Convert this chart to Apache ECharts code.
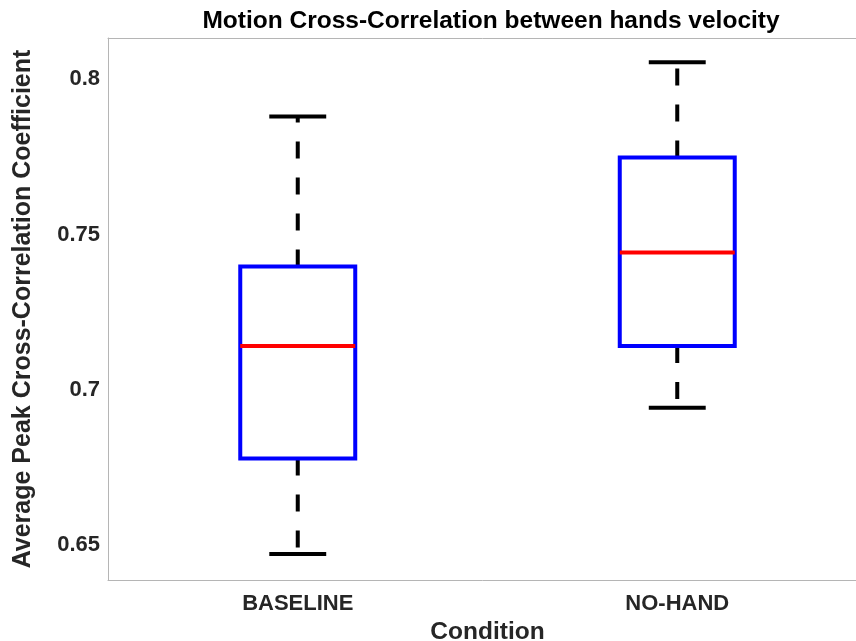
<!DOCTYPE html>
<html>
<head>
<meta charset="utf-8">
<title>Motion Cross-Correlation</title>
<script src="https://cdn.jsdelivr.net/npm/echarts@6/dist/echarts.min.js"></script>
<style>
    html, body { margin: 0; padding: 0; background: #fff; }
    #chartDiv { width: 856px; height: 641px; }
</style>
</head>
<body>
<div id="chartDiv"></div>
<script>
// conditions on the x axis
var conditions = ['BASELINE', 'NO-HAND'];
// box statistics per condition
var whiskerLow = [0.6471, 0.6942];
var quartile1 = [0.6778, 0.7141];
var medians = [0.7141, 0.7442];
var quartile3 = [0.7397, 0.7748];
var whiskerHigh = [0.7880, 0.8055];
// y axis range and ticks
var yMin = 0.6387;
var yMax = 0.8133;
var yTicks = [0.65, 0.7, 0.75, 0.8];

var textColor = '#262626';
var axisColor = '#b5b5b5';
var fontName = '"Liberation Sans", Arial, Helvetica, sans-serif';

function buildBoxData() {
    return conditions.map(function (c, i) {
        return [i, whiskerLow[i], quartile1[i], medians[i], quartile3[i], whiskerHigh[i]];
    });
}

function renderBox(params, api) {
    var idx = api.value(0);
    var band = api.size([1, 0])[0];
    var halfBox = band * 0.1515;
    var halfCap = band * 0.075;
    var pLow = api.coord([idx, api.value(1)]);
    var pQ1 = api.coord([idx, api.value(2)]);
    var pMed = api.coord([idx, api.value(3)]);
    var pQ3 = api.coord([idx, api.value(4)]);
    var pHigh = api.coord([idx, api.value(5)]);
    var x = pMed[0];
    var dashStyle = { stroke: '#000', lineWidth: 4, lineDash: [17, 19], lineCap: 'butt' };
    var solid = { stroke: '#000', lineWidth: 4, lineCap: 'butt' };
    return {
        type: 'group',
        children: [
            { type: 'line', shape: { x1: x, y1: pQ3[1], x2: x, y2: pHigh[1] }, style: dashStyle },
            { type: 'line', shape: { x1: x, y1: pQ1[1], x2: x, y2: pLow[1] }, style: dashStyle },
            { type: 'line', shape: { x1: x - halfCap, y1: pHigh[1], x2: x + halfCap, y2: pHigh[1] }, style: solid },
            { type: 'line', shape: { x1: x - halfCap, y1: pLow[1], x2: x + halfCap, y2: pLow[1] }, style: solid },
            {
                type: 'rect',
                shape: { x: x - halfBox, y: pQ3[1], width: halfBox * 2, height: pQ1[1] - pQ3[1] },
                style: { fill: 'none', stroke: '#0000ff', lineWidth: 4 }
            },
            {
                type: 'line',
                shape: { x1: x - halfBox, y1: pMed[1], x2: x + halfBox, y2: pMed[1] },
                style: { stroke: '#ff0000', lineWidth: 4 }
            }
        ]
    };
}

function drawChart() {
    var myChart = echarts.init(document.getElementById('chartDiv'));
    myChart.setOption({
        animation: false,
        backgroundColor: '#fff',
        graphic: [{
            type: 'text',
            x: 491,
            y: 21,
            style: {
                text: 'Motion Cross-Correlation between hands velocity',
                font: 'bold 24.5px ' + fontName,
                fill: '#000',
                align: 'center',
                verticalAlign: 'middle'
            }
        }],
        grid: {
            left: 108,
            top: 38,
            width: 759,
            height: 542,
            outerBoundsMode: 'none',
            containLabel: false
        },
        xAxis: [{
            type: 'category',
            data: conditions,
            name: 'Condition',
            nameLocation: 'middle',
            nameGap: 35,
            nameTextStyle: { fontFamily: fontName, fontWeight: 'bold', fontSize: 24.5, color: textColor },
            axisLine: { lineStyle: { color: axisColor, width: 1 } },
            axisTick: { inside: true, length: 7, alignWithLabel: true, lineStyle: { color: '#777' } },
            axisLabel: { margin: 13, fontFamily: fontName, fontWeight: 'bold', fontSize: 22, color: textColor },
            splitLine: { show: false }
        }, {
            type: 'category',
            data: conditions,
            position: 'top',
            axisLine: { lineStyle: { color: axisColor, width: 1 } },
            axisTick: { inside: true, length: 7, alignWithLabel: true, lineStyle: { color: '#777' } },
            axisLabel: { show: false },
            splitLine: { show: false }
        }],
        yAxis: {
            type: 'value',
            min: yMin,
            max: yMax,
            splitNumber: 4,
            name: 'Average Peak Cross-Correlation Coefficient',
            nameLocation: 'middle',
            nameGap: 72,
            nameTextStyle: { fontFamily: fontName, fontWeight: 'bold', fontSize: 25, color: textColor },
            axisLine: { show: true, lineStyle: { color: axisColor, width: 1 } },
            axisTick: { inside: true, length: 6, lineStyle: { color: '#777' } },
            axisLabel: {
                margin: 8,
                showMinLabel: false,
                showMaxLabel: false,
                fontFamily: fontName,
                fontWeight: 'bold',
                fontSize: 22,
                color: textColor,
                formatter: function (v) {
                    for (var i = 0; i < yTicks.length; i++) {
                        if (Math.abs(v - yTicks[i]) < 1e-6) {
                            return String(yTicks[i]);
                        }
                    }
                    return '';
                }
            },
            splitLine: { show: false }
        },
        series: [{
            type: 'custom',
            name: 'boxes',
            renderItem: renderBox,
            encode: { x: 0, y: [1, 2, 3, 4, 5] },
            data: buildBoxData()
        }]
    });
}

drawChart();
</script>
</body>
</html>
